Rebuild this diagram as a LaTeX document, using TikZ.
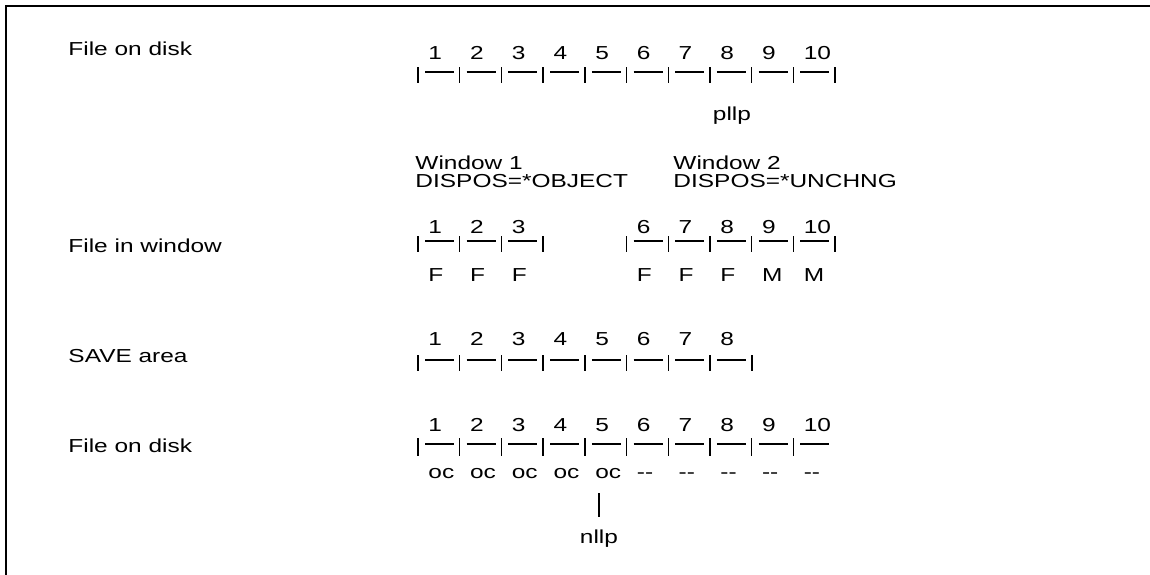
\documentclass[tikz,border=0pt]{standalone}
\usepackage{fontspec}
\setmainfont{Liberation Sans}
\newcommand{\diafont}{\fontsize{10.7}{12}\selectfont}
\tikzset{
    lbl/.style={font=\diafont, inner sep=0pt, anchor=base west, xscale=1.3, transform shape},
    seg/.style={line width=0.8pt}
}
\begin{document}
\begin{tikzpicture}[x=0.02cm, y=-0.02cm]
    \useasboundingbox (0,0) rectangle (1150,575);
    % Frame (top and left edge)
    \draw[line width=0.9pt] (1150,6) -- (6,6) -- (6,575);

    % Row labels
    \node[lbl] (lab1) at (68,55) {File on disk};
    \node[lbl] (lab2) at (68,252) {File in window};
    \node[lbl] (lab3) at (68,362) {SAVE area};
    \node[lbl] (lab4) at (68,452) {File on disk};

    % File on disk (before)
    \foreach \i in {1,...,10} {
        \pgfmathsetmacro{\tx}{418+41.7*(\i-1)}
        \draw[seg] (\tx,67) -- (\tx,83);
        \draw[seg] (\tx+7,72) -- (\tx+36,72);
        \node[lbl] (da-\i) at (\tx+10,59) {\i};
    }
    \draw[seg] (835,67) -- (835,83);
    \node[lbl, anchor=base] (pllp) at (732,120) {pllp};

    % Windows
    \node[lbl] (win1) at (415,169) {Window 1};
    \node[lbl] (dis1) at (415,187) {DISPOS=*OBJECT};
    \node[lbl] (win2) at (673,169) {Window 2};
    \node[lbl] (dis2) at (673,187) {DISPOS=*UNCHNG};

    % File in window
    \foreach \i/\l in {1/F, 2/F, 3/F, 6/F, 7/F, 8/F, 9/M, 10/M} {
        \pgfmathsetmacro{\tx}{418+41.7*(\i-1)}
        \draw[seg] (\tx,236) -- (\tx,252);
        \draw[seg] (\tx+7,241) -- (\tx+36,241);
        \node[lbl] (wn-\i) at (\tx+10,233) {\i};
        \node[lbl] (wf-\i) at (\tx+10,281) {\l};
    }
    \draw[seg] (543,236) -- (543,252);
    \draw[seg] (835,236) -- (835,252);

    % SAVE area
    \foreach \i in {1,...,8} {
        \pgfmathsetmacro{\tx}{418+41.7*(\i-1)}
        \draw[seg] (\tx,355) -- (\tx,371);
        \draw[seg] (\tx+7,360) -- (\tx+36,360);
        \node[lbl] (sv-\i) at (\tx+10,345) {\i};
    }
    \draw[seg] (752,355) -- (752,371);

    % File on disk (after)
    \foreach \i/\l in {1/oc, 2/oc, 3/oc, 4/oc, 5/oc, 6/{-}{-}, 7/{-}{-}, 8/{-}{-}, 9/{-}{-}, 10/{-}{-}} {
        \pgfmathsetmacro{\tx}{418+41.7*(\i-1)}
        \draw[seg] (\tx,438) -- (\tx,456);
        \draw[seg] (\tx+7,444) -- (\tx+36,444);
        \node[lbl] (db-\i) at (\tx+10,431) {\i};
        \node[lbl] (oc-\i) at (\tx+10,478) {\l};
    }
    \node[lbl, anchor=base] (nllp) at (599,543) {nllp};
    \draw[seg, shorten <=8.5pt, shorten >=6.8pt] (nllp.north |- oc-5.south) -- (nllp.north);
\end{tikzpicture}
\end{document}
